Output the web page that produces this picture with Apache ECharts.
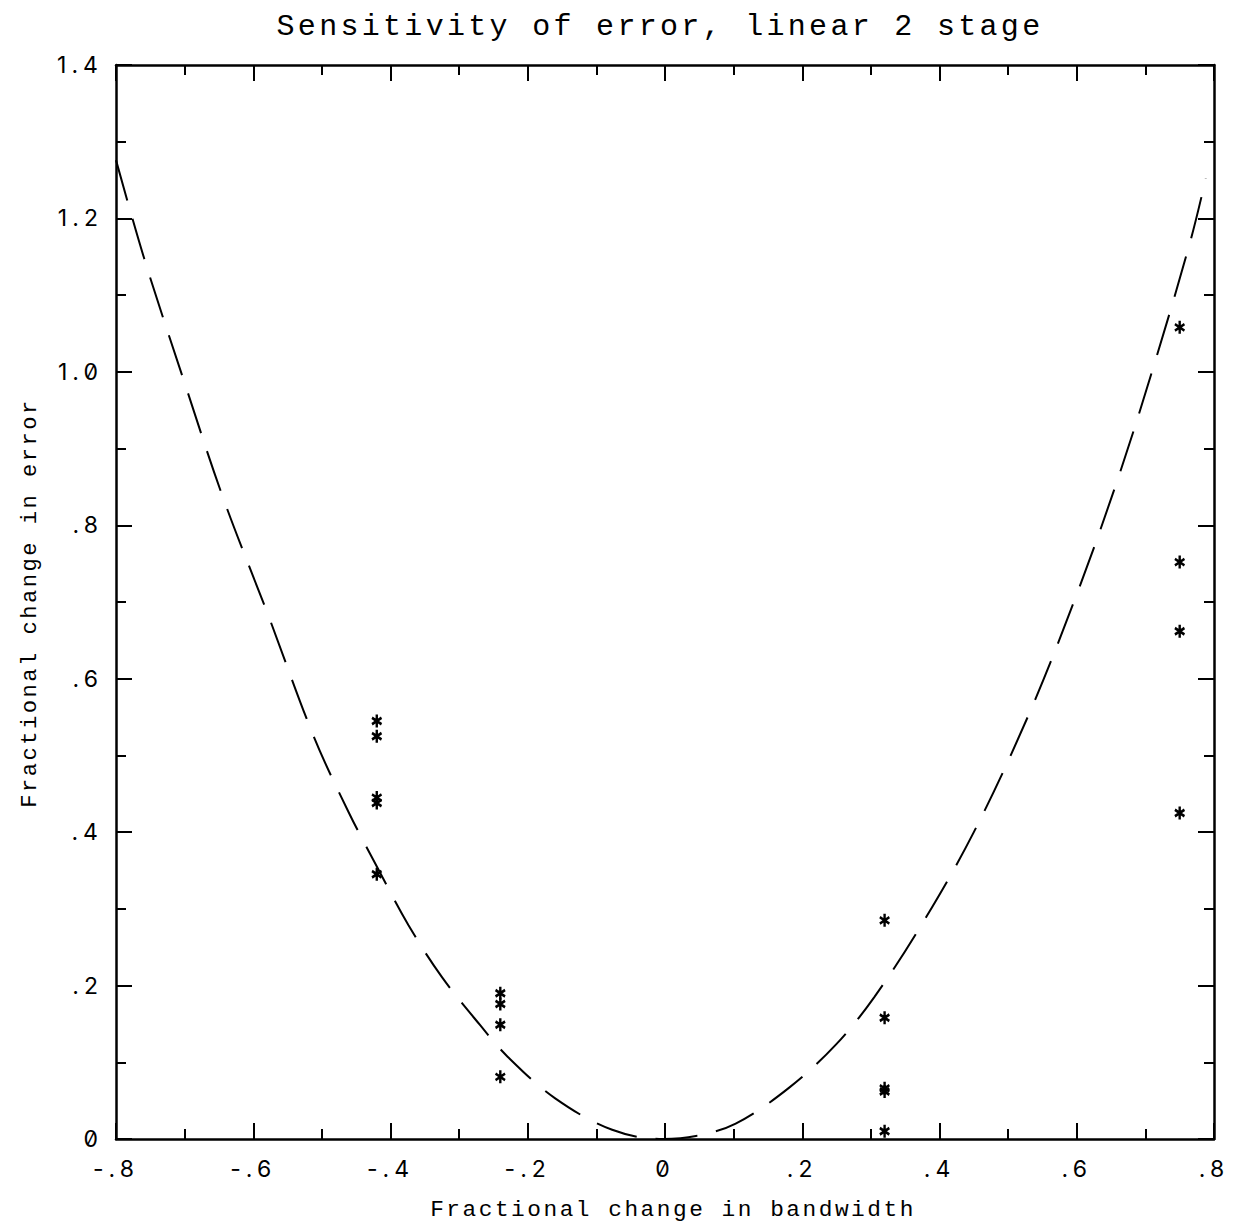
<!DOCTYPE html>
<html>
<head>
<meta charset="utf-8">
<script src="https://cdn.jsdelivr.net/npm/echarts@6/dist/echarts.min.js"></script>
<style>
  html, body { margin: 0; padding: 0; background: #fff; }
  #chart { width: 1246px; height: 1228px; }
  /* plotter-style wide lettering */
  #chart text[style*="Liberation"] { letter-spacing: 0.11em !important; }
  #chart text[style*="Inter"] { letter-spacing: 0.22em !important; font-feature-settings: "zero" 1 !important; }
</style>
</head>
<body>
<div id="chart"></div>
<script>
// Measured points: fractional change in bandwidth vs fractional change in error
const bandwidthChange = [
  -0.42, -0.42, -0.42, -0.42, -0.42,
  -0.24, -0.24, -0.24, -0.24,
   0.32,  0.32,  0.32,  0.32,  0.32,
   0.75,  0.75,  0.75,  0.75
];
const errorChange = [
  0.545, 0.525, 0.445, 0.438, 0.345,
  0.190, 0.176, 0.149, 0.081,
  0.285, 0.158, 0.066, 0.062, 0.010,
  1.058, 0.752, 0.662, 0.425
];

// Predicted sensitivity curve (dashed)
const curveX = [
  -0.800, -0.759, -0.702, -0.644, -0.577, -0.512, -0.461, -0.418, -0.374, -0.325,
  -0.269, -0.229, -0.160, -0.077, -0.003,  0.045,  0.103,  0.181,  0.249,  0.305,
   0.375,  0.450,  0.529,  0.597,  0.659,  0.714,  0.766,  0.788
];
const curveY = [
  1.276, 1.148, 0.991, 0.836, 0.680, 0.525, 0.426, 0.352, 0.279, 0.211,
  0.148, 0.107, 0.053, 0.012, 0.000, 0.004, 0.020, 0.067, 0.123, 0.185,
  0.281, 0.400, 0.551, 0.703, 0.858, 1.013, 1.172, 1.252
];

// Tick labels
const xTickLabels = ['-.8', '-.6', '-.4', '-.2', '0', '.2', '.4', '.6', '.8'];
const yTickLabels = ['0', '.2', '.4', '.6', '.8', '1.0', '1.2', '1.4'];

const titleText = 'Sensitivity of error, linear 2 stage';
const xName = 'Fractional change in bandwidth';
const yName = 'Fractional change in error';

const X_MIN = -0.8, X_MAX = 0.8, Y_MIN = 0, Y_MAX = 1.4, STEP = 0.2;

const chart = echarts.init(document.getElementById('chart'), null, { renderer: 'svg' });

const ink = '#000';
const tickFont = { fontFamily: 'Inter', fontSize: 23, color: ink };

function frameAxis(pos, min, max, labels, showLabels) {
  return {
    type: 'value',
    position: pos,
    min: min,
    max: max,
    interval: STEP,
    axisLine: { show: true, onZero: false, lineStyle: { color: ink, width: 2.5 } },
    axisTick: { show: true, inside: true, length: 16, lineStyle: { color: ink, width: 2 } },
    minorTick: { show: true, splitNumber: 2, length: 10, lineStyle: { color: ink, width: 2 } },
    splitLine: { show: false },
    minorSplitLine: { show: false },
    axisLabel: showLabels ? Object.assign({
      show: true,
      margin: pos === 'bottom' ? 18 : 13,
      hideOverlap: false,
      formatter: function (v) { return labels[Math.round((v - min) / STEP)]; }
    }, tickFont) : { show: false }
  };
}

chart.setOption({
  animation: false,
  backgroundColor: '#fff',
  grid: { left: 116, right: 32, top: 65, bottom: 89, containLabel: false },
  xAxis: [
    frameAxis('bottom', X_MIN, X_MAX, xTickLabels, true),
    frameAxis('top', X_MIN, X_MAX, xTickLabels, false)
  ],
  yAxis: [
    frameAxis('left', Y_MIN, Y_MAX, yTickLabels, true),
    frameAxis('right', Y_MIN, Y_MAX, yTickLabels, false)
  ],
  graphic: [
    { type: 'text', x: 660, y: 27, silent: true,
      style: { text: titleText, fill: ink, fontFamily: 'Liberation Mono', fontSize: 30,
               textAlign: 'center', textVerticalAlign: 'middle' } },
    { type: 'text', x: 673, y: 1210, silent: true,
      style: { text: xName, fill: ink, fontFamily: 'Liberation Mono', fontSize: 22.8,
               textAlign: 'center', textVerticalAlign: 'middle' } },
    { type: 'text', x: 30, y: 603, rotation: Math.PI / 2, silent: true,
      style: { text: yName, fill: ink, fontFamily: 'Liberation Mono', fontSize: 22.2,
               textAlign: 'center', textVerticalAlign: 'middle' } }
  ],
  series: [
    {
      type: 'line',
      data: curveX.map(function (x, i) { return [x, curveY[i]]; }),
      smooth: 0.35,
      showSymbol: false,
      symbol: 'none',
      silent: true,
      lineStyle: { color: ink, width: 2, type: [42, 19] }
    },
    {
      type: 'scatter',
      data: bandwidthChange.map(function (x, i) { return [x, errorChange[i]]; }),
      symbol: 'path://M5,0L5,10M0.67,2.5L9.33,7.5M0.67,7.5L9.33,2.5',
      symbolSize: [11, 13],
      symbolKeepAspect: true,
      silent: true,
      itemStyle: { color: ink, borderColor: ink, borderWidth: 2.6, opacity: 1 }
    }
  ]
});
</script>
</body>
</html>
